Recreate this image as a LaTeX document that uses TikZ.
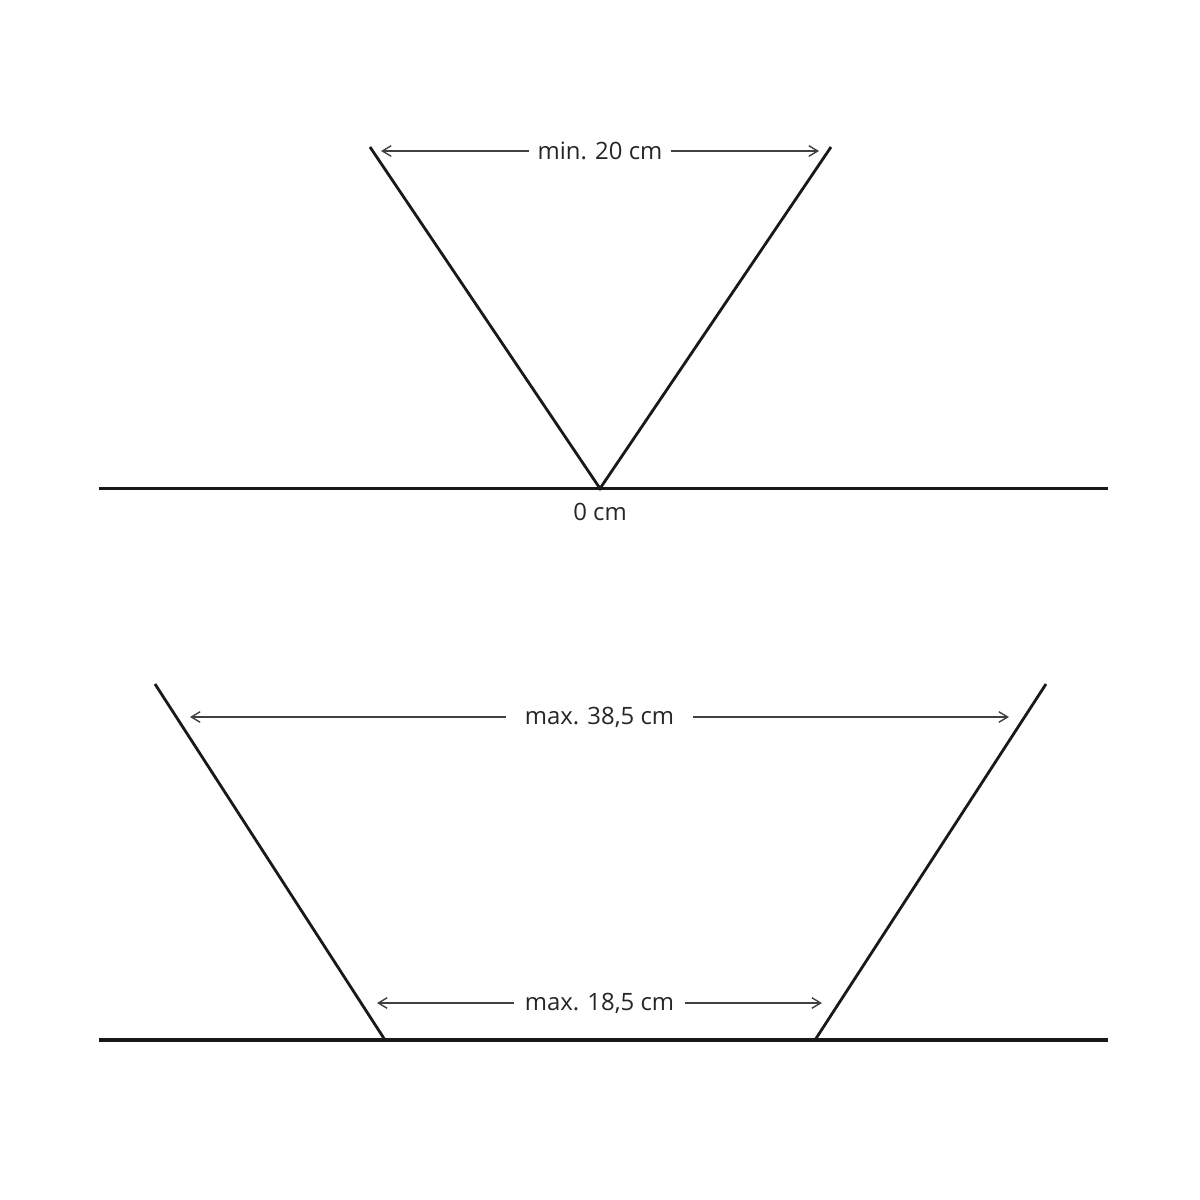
\documentclass[tikz,border=0pt]{standalone}
\usepackage{fontspec}
\setmainfont{Open Sans}
\usetikzlibrary{arrows.meta,positioning,calc}

\begin{document}
\begin{tikzpicture}[
    x=0.02cm, y=-0.02cm,
    ground/.style={line width=1.8pt, black!90},
    leg/.style={line width=1.6pt, black!90},
    dim/.style={{Straight Barb[length=5pt,width=6pt]}-{Straight Barb[length=5pt,width=6pt]}, line width=0.8pt, black!75},
    txt/.style={inner ysep=1pt, font=\fontsize{13.6}{16}\selectfont, text=black!85},
    label/.style={txt, fill=white}
]
\useasboundingbox (0,0) rectangle (1200,1200);

% Top: minimum opening
\coordinate (gl1) at (99,488.5);
\coordinate (gr1) at (1108,488.5);
\coordinate (apex) at (600,488.5);
\coordinate (tl1) at (370,147);
\coordinate (tr1) at (831,147);
\coordinate (al1) at (381,151);
\coordinate (ar1) at (819,151);

\draw[ground] (gl1) -- (gr1);
\draw[leg] (tl1) -- (apex) -- (tr1);
\draw[dim] (al1) -- (ar1) node[label, midway, inner xsep=5pt] (minw) {min. 20 cm};
\node[txt, below=7pt of apex] (zero) {0 cm};

% Bottom: maximum opening
\coordinate (gl2) at (99,1040);
\coordinate (gr2) at (1108,1040);
\coordinate (bl2) at (385,1040);
\coordinate (br2) at (815,1040);
\coordinate (tl2) at (155,684);
\coordinate (tr2) at (1046,684);
\coordinate (al2) at (190,717);
\coordinate (ar2) at (1009,717);
\coordinate (al3) at (377,1003);
\coordinate (ar3) at (822,1003);

\draw[ground] (gl2) -- (gr2);
\draw[leg] (tl2) -- (bl2);
\draw[leg] (tr2) -- (br2);
\draw[dim] (al2) -- (ar2) node[label, midway, inner xsep=11pt] (maxtop) {max. 38,5 cm};
\draw[dim] (al3) -- (ar3) node[label, midway, inner xsep=6pt] (maxbot) {max. 18,5 cm};

\end{tikzpicture}
\end{document}
